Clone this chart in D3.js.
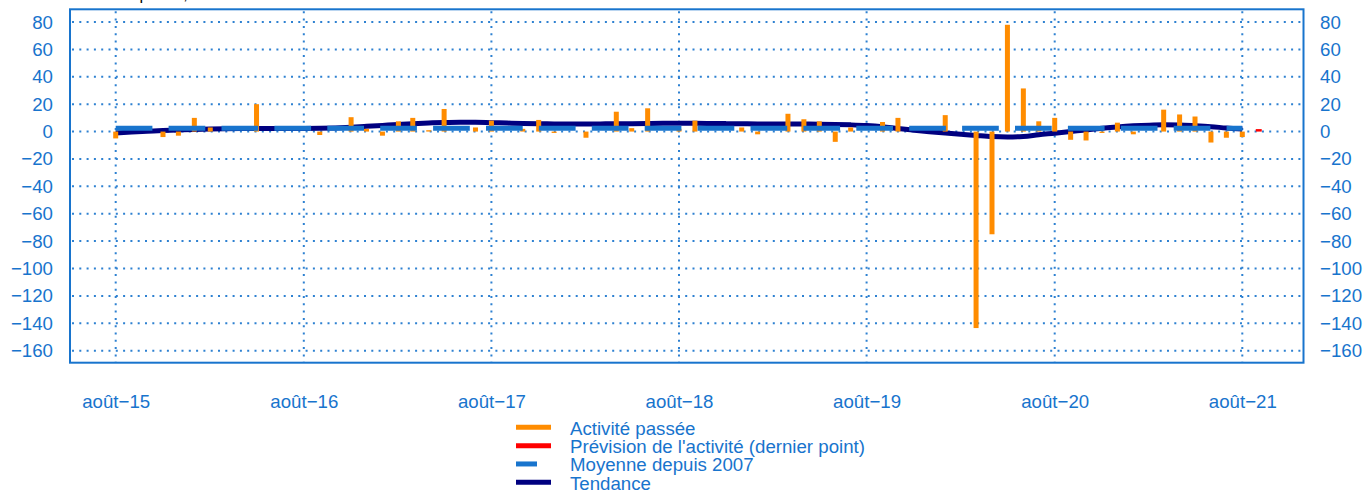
<!DOCTYPE html>
<html>
<head>
<meta charset="utf-8">
<script src="https://cdn.jsdelivr.net/npm/d3@7"></script>
<style>
  body { margin: 0; background: #fff; }
  svg { display: block; font-family: "Liberation Sans", Arial, sans-serif; }
</style>
</head>
<body>
<div class="canvas"></div>
<script>
// months, starting août 2015
const firstMonth = "2015-08";

// Activité passée (solde d'opinion), one value per month from août-15 to août-21
const activite = [
  -5, 0, 0, -4, -3, 10, 3, 0, 0, 20, 0, 0,
  0, -2.5, 0, 10.5, 2, -3, 7.5, 10, 1, 16.5, 0, 3,
  8, 0, 2, 8.5, -1, 0, -4.5, 0, 14.5, 2.5, 17, 0,
  2, 8, 0, 0, 3, -2, 0, 13, 9, 7.5, -7.5, 3,
  0, 7, 10, 0, 0, 12, 0, -143.5, -75, 78, 31.5, 7.5,
  10, -6, -6.5, -1, 6.5, -2, 0, 16, 12.5, 11, -8, -4.5,
  -4
];

// Prévision de l'activité (dernier point, sept-21)
const prevision = [1.8];

// Moyenne depuis 2007
const moyenne = [2.4];

// Tendance
const tendance = [
  -1.0, -0.4, 0.2, 0.8, 1.2, 1.6, 1.9, 2.1, 2.2, 2.2, 2.2, 2.3,
  2.3, 2.4, 2.7, 3.2, 3.8, 4.5, 5.2, 5.8, 6.3, 6.7, 6.9, 6.8,
  6.5, 6.2, 5.9, 5.7, 5.6, 5.5, 5.5, 5.6, 5.7, 5.8, 5.9, 6.0,
  6.0, 6.0, 5.9, 5.8, 5.7, 5.6, 5.6, 5.5, 5.5, 5.4, 5.2, 4.9,
  4.4, 3.5, 2.2, 1.0, -0.1, -1.1, -2.0, -2.8, -3.6, -3.9, -3.6, -2.3,
  -1.2, 0.0, 1.2, 2.4, 3.4, 4.2, 4.7, 4.9, 4.8, 4.3, 3.6, 2.6,
  1.8
];

const yTicks = [-160, -140, -120, -100, -80, -60, -40, -20, 0, 20, 40, 60, 80];
const xTickMonths = ["2015-08", "2016-08", "2017-08", "2018-08", "2019-08", "2020-08", "2021-08"];
const xTickLabels = ["août\u221215", "août\u221216", "août\u221217", "août\u221218", "août\u221219", "août\u221220", "août\u221221"];

const legendLabels = [
  "Activité passée",
  "Prévision de l'activité (dernier point)",
  "Moyenne depuis 2007",
  "Tendance"
];

const titleText = "Solde d'opinion, données CVS";

const orange = "#ff8c00";
const red = "#ff0000";
const blue = "#1874cd";
const navy = "#000080";
const fontSize = 18.67;

const width = 1365, height = 490;
const plot = { left: 70, right: 1303.5, top: 9.3, bottom: 362.7 };

const parseMonth = d3.timeParse("%Y-%m");
const start = parseMonth(firstMonth);
const months = d3.timeMonth.range(start, d3.timeMonth.offset(start, activite.length + prevision.length));

const x = d3.scaleTime()
  .domain([parseMonth("2015-08"), parseMonth("2021-08")])
  .range([115.7, 1242.3]);

const y = d3.scaleLinear()
  .domain([-168.8, 89.3])
  .range([plot.bottom, plot.top]);

const svg = d3.select(".canvas").append("svg")
  .attr("width", width)
  .attr("height", height);

// title, mostly above the top edge (only its bottom shows)
svg.append("text")
  .attr("x", 72)
  .attr("y", -1.5)
  .attr("font-size", fontSize)
  .attr("textLength", 221)
  .attr("lengthAdjust", "spacingAndGlyphs")
  .attr("fill", "#000")
  .text(titleText);

// dotted grid
const grid = svg.append("g")
  .attr("stroke", blue)
  .attr("stroke-width", 2)
  .attr("stroke-dasharray", "2,5.3")
  .attr("opacity", 0.9);

grid.selectAll("line.h")
  .data(yTicks)
  .enter()
  .append("line")
  .attr("class", "h")
  .attr("x1", plot.left + 2)
  .attr("x2", plot.right)
  .attr("y1", (d) => y(d))
  .attr("y2", (d) => y(d));

grid.selectAll("line.v")
  .data(xTickMonths)
  .enter()
  .append("line")
  .attr("class", "v")
  .attr("x1", (d) => x(parseMonth(d)))
  .attr("x2", (d) => x(parseMonth(d)))
  .attr("y1", plot.top + 2)
  .attr("y2", plot.bottom);

// trend (drawn under the other marks)
const line = d3.line()
  .x((d, i) => x(months[i]))
  .y((d) => y(d))
  .curve(d3.curveMonotoneX);

svg.append("path")
  .datum(tendance)
  .attr("d", line)
  .attr("fill", "none")
  .attr("stroke", navy)
  .attr("stroke-width", 5);

// bars
const barW = 5;
svg.append("g")
  .selectAll("rect")
  .data(activite)
  .enter()
  .append("rect")
  .attr("x", (d, i) => x(months[i]) - barW / 2)
  .attr("y", (d) => y(Math.max(0, d)))
  .attr("width", barW)
  .attr("height", (d) => Math.abs(y(d) - y(0)))
  .attr("fill", orange);

svg.append("g")
  .selectAll("rect")
  .data(prevision)
  .enter()
  .append("rect")
  .attr("x", (d, i) => x(months[activite.length + i]) - barW / 2)
  .attr("y", (d) => y(Math.max(0, d)))
  .attr("width", barW + 1)
  .attr("height", (d) => Math.abs(y(d) - y(0)))
  .attr("fill", red);

// average since 2007 (dashed)
svg.append("line")
  .attr("x1", x(months[0]))
  .attr("x2", x(months[activite.length - 1]))
  .attr("y1", y(moyenne[0]))
  .attr("y2", y(moyenne[0]))
  .attr("stroke", blue)
  .attr("stroke-width", 5)
  .attr("stroke-dasharray", "36.7,16.2");

// frame
svg.append("rect")
  .attr("x", plot.left)
  .attr("y", plot.top)
  .attr("width", plot.right - plot.left)
  .attr("height", plot.bottom - plot.top)
  .attr("fill", "none")
  .attr("stroke", blue)
  .attr("stroke-width", 2);

// axes
function styleAxis(g) {
  g.select(".domain").remove();
  g.selectAll("text")
    .attr("fill", blue)
    .attr("font-size", fontSize)
    .attr("font-family", "Liberation Sans, Arial, sans-serif");
}

svg.append("g")
  .attr("transform", `translate(${plot.left},0)`)
  .call(d3.axisLeft(y).tickValues(yTicks).tickSize(0).tickPadding(17))
  .call(styleAxis);

svg.append("g")
  .attr("transform", `translate(${plot.right},0)`)
  .call(d3.axisRight(y).tickValues(yTicks).tickSize(0).tickPadding(16.5))
  .call(styleAxis);

svg.append("g")
  .attr("transform", `translate(0,${plot.bottom})`)
  .call(
    d3.axisBottom(x)
      .tickValues(xTickMonths.map(parseMonth))
      .tickFormat((d, i) => xTickLabels[i])
      .tickSize(0)
      .tickPadding(32)
  )
  .call(styleAxis);

// legend
const legendColors = [orange, red, blue, navy];
const legend = svg.append("g");
legendLabels.forEach(function (label, i) {
  const cy = 427.3 + i * 18.33;
  legend.append("line")
    .attr("x1", 516)
    .attr("x2", i === 2 ? 537 : 551)
    .attr("y1", cy)
    .attr("y2", cy)
    .attr("stroke", legendColors[i])
    .attr("stroke-width", 5);
  legend.append("text")
    .attr("x", 570)
    .attr("y", cy + 7.5)
    .attr("font-size", fontSize)
    .attr("fill", blue)
    .text(label);
});
</script>
</body>
</html>
